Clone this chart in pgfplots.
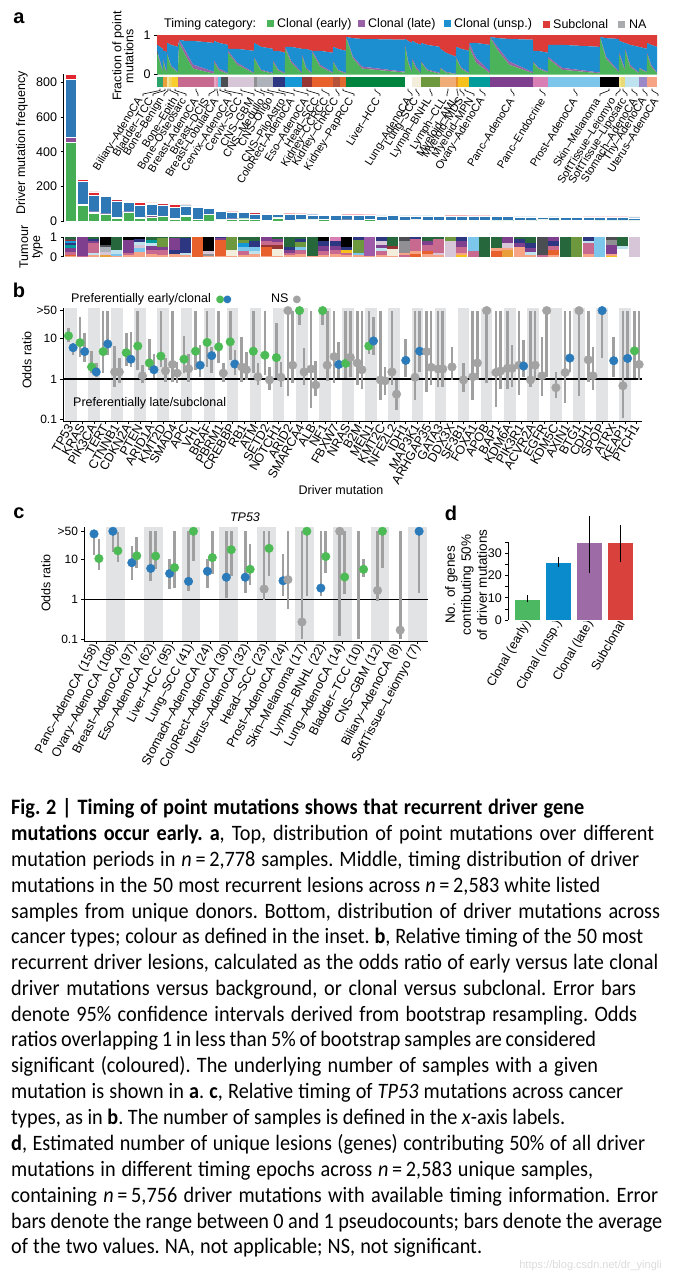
\documentclass[border=0pt]{standalone}
\usepackage{fontspec}
\setmainfont{Liberation Sans}
\newfontfamily\capfont[FakeStretch=0.92,WordSpace=0.7]{Carlito}
\newfontfamily\symfont{DejaVu Sans}
\usepackage{pgfplots}
\usepackage{pgfplotstable}
\pgfplotsset{compat=1.18}

\newcommand\fA{\fontsize{12.5}{14}\selectfont}
\newcommand\fT{\fontsize{12}{14}\selectfont}
\newcommand\fS{\fontsize{11}{13}\selectfont}
\newcommand\fPan{\fontsize{20}{22}\selectfont\bfseries}
\newcommand\fC{\capfont\fontsize{22}{26}\selectfont\frenchspacing}

% timing colours
\definecolor{cG}{HTML}{4BB35A}
\definecolor{cP}{HTML}{9A62A6}
\definecolor{cB}{HTML}{1B8FD0}
\definecolor{cR}{HTML}{DC3B38}
\definecolor{cNA}{HTML}{A9ABAE}
\definecolor{bG}{HTML}{45AE55}
\definecolor{bP}{HTML}{8B4C98}
\definecolor{bB}{HTML}{2F78B6}
\definecolor{bR}{HTML}{E2262F}
\definecolor{bNA}{HTML}{F0B4C0}
\definecolor{dotG}{HTML}{4DBB55}
\definecolor{dotB}{HTML}{2B7BBA}
\definecolor{dotN}{HTML}{A3A3A3}
\definecolor{ciC}{HTML}{A0A0A0}
\definecolor{band}{HTML}{E2E3E4}
\definecolor{dG}{HTML}{4DB862}
\definecolor{dB}{HTML}{0A8BCB}
\definecolor{dP}{HTML}{9D6BA5}
\definecolor{dR}{HTML}{D8413C}
% tumour type colours
\definecolor{cBil}{HTML}{2BA36A}
\definecolor{cBla}{HTML}{E9A03B}
\definecolor{cBob}{HTML}{F3E3A0}
\definecolor{cBoe}{HTML}{F2D35C}
\definecolor{cBon}{HTML}{F9CD2B}
\definecolor{cBre}{HTML}{C8698F}
\definecolor{cBrd}{HTML}{E7A6C4}
\definecolor{cBrl}{HTML}{E390B5}
\definecolor{cCer}{HTML}{5CC2E8}
\definecolor{cCes}{HTML}{4B4F53}
\definecolor{cGbm}{HTML}{D6C6D8}
\definecolor{cMed}{HTML}{8F8F94}
\definecolor{cOli}{HTML}{AEB2BB}
\definecolor{cCol}{HTML}{2D3681}
\definecolor{cEso}{HTML}{1598D6}
\definecolor{cHea}{HTML}{963634}
\definecolor{cKid}{HTML}{E8612C}
\definecolor{cKch}{HTML}{B4523A}
\definecolor{cKpa}{HTML}{E06A2E}
\definecolor{cLiv}{HTML}{27673C}
\definecolor{cLivS}{HTML}{00853F}
\definecolor{cLua}{HTML}{FFFFFF}
\definecolor{cLus}{HTML}{F3EEDC}
\definecolor{cBnh}{HTML}{6E983D}
\definecolor{cCll}{HTML}{EFAC77}
\definecolor{cAml}{HTML}{E98E2A}
\definecolor{cMye}{HTML}{F6C11C}
\definecolor{cOva}{HTML}{009C9C}
\definecolor{cPan}{HTML}{7E3F8F}
\definecolor{cPen}{HTML}{DA7EB6}
\definecolor{cMen}{HTML}{9E5CA8}
\definecolor{cPro}{HTML}{7CC6EC}
\definecolor{cSki}{HTML}{000000}
\definecolor{cSof}{HTML}{F4E48C}
\definecolor{cLip}{HTML}{E8D977}
\definecolor{cSto}{HTML}{BFE2EF}
\definecolor{cThy}{HTML}{9B88C7}
\definecolor{cUte}{HTML}{F6A386}

\pgfplotsset{base/.style={scale only axis, clip=false,
  /pgf/number format/assume math mode=true,
  tick label style={font=\fT}, tick align=outside,
  major tick length=3pt, minor tick length=3pt,
  every tick/.style={black, line width=0.7pt},
  axis line style={line width=0.8pt}}}

\newcommand\tb[3]{\addplot[ybar, bar width=0.94, bar shift=0pt, fill=#3, draw=none, forget plot] coordinates {(#1,#2)};}
\newcommand\rs[3]{\addplot[fill=#3, draw=none, forget plot] coordinates {(#1,0) (#2,0) (#2,1) (#1,1)} -- cycle;}
\newcommand\bandB[2]{\addplot[fill=band, draw=none, forget plot] coordinates {(#1,0.093) (#2,0.093) (#2,59) (#1,59)} -- cycle;}
\newcommand\bandC[2]{\addplot[fill=band, draw=none, forget plot] coordinates {(#1,0.093) (#2,0.093) (#2,65) (#1,65)} -- cycle;}

\pgfplotstableread{
i g p b r na
1 455 28 336 28 3
2 93 3 135 9 2
3 45 10 95 20 3
4 42 2 100 4 2
5 18 5 95 8 2
6 50 5 55 6 2
7 18 5 70 17 2
8 25 8 65 8 2
9 28 3 63 8 2
10 12 5 65 16 2
11 30 5 55 5 2
12 10 2 70 5 2
13 40 3 32 5 1
14 8 2 48 6 1
15 12 3 37 2 1
16 15 2 35 4 1
17 10 3 30 8 1
18 5 2 32 8 1
19 20 2 20 3 1
20 5 3 33 3 1
21 8 2 30 3 1
22 8 2 28 4 1
23 10 1 25 5 1
24 5 2 28 4 1
25 8 1 26 3 1
26 5 2 27 4 1
27 12 1 20 4 1
28 5 2 24 5 1
29 5 1 27 3 1
30 4 1 26 4 1
31 8 2 21 3 1
32 4 2 25 3 1
33 5 2 23 3 1
34 5 1 23 3 1
35 4 1 24 3 1
36 4 1 23 3 1
37 5 1 21 4 1
38 3 1 23 3 1
39 3 2 22 3 1
40 5 1 20 3 1
41 3 1 22 3 1
42 8 2 14 4 1
43 3 1 21 3 1
44 4 1 19 3 1
45 4 1 19 3 1
46 4 1 18 3 1
47 3 1 19 3 1
48 3 1 18 3 1
49 3 1 18 3 1
50 3 1 17 3 1
}\tabA

\pgfplotstableread{
x g p b r
0.2 .55 .05 .15 .25
3 .30 .05 .35 .30
5.8 .05 .03 .57 .35
6.2 .35 .05 .20 .40
8 .15 .05 .40 .40
9.8 .05 .03 .47 .45
10.2 .50 .03 .27 .20
14 .20 .03 .52 .25
20.8 .05 .02 .63 .30
22.2 .80 .08 .00 .12
28 .50 .12 .23 .15
36 .15 .10 .60 .15
56.8 .02 .05 .73 .20
57.2 .30 .05 .50 .15
62 .10 .05 .65 .20
70.8 .02 .02 .71 .25
71.2 .55 .05 .05 .35
80 .25 .05 .35 .35
96.8 .03 .02 .55 .40
97.2 .40 .03 .37 .20
104 .10 .02 .58 .30
115.8 .02 .02 .61 .35
116.2 .30 .05 .25 .40
121 .10 .03 .47 .40
127.8 .02 .02 .51 .45
128.2 .65 .05 .00 .30
134 .30 .05 .35 .30
144.8 .03 .02 .60 .35
145.2 .45 .05 .15 .35
149 .15 .03 .47 .35
154.8 .02 .02 .56 .40
155.2 .55 .05 .00 .40
163 .20 .05 .35 .40
175.8 .03 .02 .50 .45
176.2 .30 .03 .37 .30
181 .10 .02 .53 .35
188.8 .02 .02 .56 .40
189.2 .92 .03 .00 .05
196 .40 .05 .47 .08
205 .15 .05 .70 .10
247.8 .05 .02 .81 .12
248.2 .70 .05 .15 .10
251 .30 .05 .50 .15
254.8 .05 .02 .73 .20
255.2 .35 .05 .45 .15
259 .15 .05 .60 .20
263.8 .03 .02 .70 .25
264.2 .30 .03 .47 .20
270 .10 .03 .62 .25
282.8 .02 .02 .66 .30
283.2 .15 .02 .48 .35
289 .05 .02 .48 .45
298.8 .01 .01 .43 .55
299.2 .40 .03 .27 .30
304 .15 .03 .47 .35
311.8 .03 .02 .55 .40
312.2 .70 .10 .00 .20
319 .30 .12 .38 .20
332.8 .03 .05 .67 .25
333.2 .92 .03 .00 .05
341 .60 .08 .24 .08
352 .25 .08 .57 .10
375.8 .03 .03 .82 .12
376.2 .30 .03 .27 .40
381 .15 .03 .42 .40
390.8 .05 .02 .48 .45
391.2 .40 .05 .30 .25
405 .12 .05 .58 .25
442.8 .03 .02 .65 .30
443.2 .93 .02 .00 .05
449 .40 .05 .47 .08
461.8 .05 .03 .82 .10
462.2 .50 .05 .30 .15
467.8 .10 .05 .65 .20
468.2 .60 .05 .15 .20
473 .20 .05 .50 .25
481.8 .03 .02 .65 .30
482.2 .15 .02 .53 .30
489.8 .05 .02 .58 .35
490.2 .50 .05 .25 .20
494 .20 .05 .50 .25
500 .03 .02 .65 .30
}\tabI

\pgfplotstableread{
x y lo hi c
0.8 11.8 8.5 18 G
1.2 6.0 3.9 8.0 B
1.8 8.0 3.6 35 G
2.2 4.8 2.7 13.5 B
2.8 2.0 1.4 4.9 G
3.2 1.5 1.14 2.45 B
3.8 4.8 1.43 50 G
4.2 7.4 3.9 50 B
4.8 1.5 0.65 6.6 N
5.2 1.5 0.78 3.4 N
5.8 4.5 2.1 13.6 G
6.2 3.1 2.0 15 B
6.8 6.6 1.7 50 G
7.2 1.2 0.78 2.2 N
7.8 2.5 1.7 10 G
8.2 1.7 1.04 4.3 B
8.8 3.7 2.0 50 G
9.2 1.6 0.86 3.3 N
9.8 2.3 0.86 50 N
10.2 1.4 0.78 2.7 N
10.8 3.1 1.4 12 G
11.2 1.8 0.86 4.3 N
11.8 4.9 1.7 50 G
12.2 2.2 1.14 7 B
12.8 8.1 2.0 50 G
13.2 3.8 1.4 6.3 B
13.8 6.3 2.45 50 G
14.2 1.4 0.86 2.45 N
14.8 8.4 2.96 50 G
15.2 2.35 1.26 5.2 B
15.8 2.0 0.86 11 N
16.2 1.7 0.95 4.8 N
16.8 4.9 1.4 50 G
17.2 1.14 0.71 2.45 N
17.8 3.9 1.26 50 G
18.2 0.95 0.53 2.0 N
18.8 3.4 1.05 24 G
19.2 1.1 0.65 2.7 N
19.8 50 0.37 50 N
20.2 2.2 0.78 50 N
20.8 50 22 50 G
21.2 1.5 0.71 5.8 N
21.8 1.77 0.19 50 N
22.2 0.71 0.37 2.85 N
22.8 50 22 50 G
23.2 2.2 0.9 50 N
23.8 3.6 0.78 50 N
24.2 2.3 1.04 8.4 B
24.8 2.45 1.05 50 G
25.2 3.45 1.14 50 N
25.8 2.5 0.71 50 N
26.2 1.7 0.55 50 N
26.8 6.6 4.3 50 G
27.2 8.8 3.9 35 B
27.8 0.95 0.3 50 N
28.2 0.9 0.4 2.0 N
28.8 1.5 0.71 50 N
29.2 0.42 0.17 0.94 N
30.0 2.9 1.14 10 B
30.8 1.1 0.3 50 N
31.2 4.9 1.5 50 B
31.8 4.8 0.48 50 N
32.2 1.95 0.71 50 N
32.8 1.77 0.65 50 N
33.2 1.77 0.65 50 N
34.0 2.0 0.95 6.3 N
35.0 0.95 0.48 2.45 N
35.8 1.14 0.3 50 N
36.2 2.5 0.95 50 N
37.0 50 0.78 50 N
37.8 1.45 0.2 50 N
38.2 1.58 0.55 50 N
38.8 1.84 0.55 50 N
39.2 1.84 0.65 7 N
39.8 2.2 0.4 50 N
40.2 2.1 1.14 9.3 B
40.8 0.95 0.65 50 N
41.2 2.2 0.95 50 N
41.8 1.2 0.37 11 N
42.2 50 1.14 50 N
43.0 0.61 0.33 1.5 N
43.8 1.45 0.25 50 N
44.2 3.3 1.5 50 B
45.0 50 0.37 50 N
45.8 3.0 0.86 50 N
46.2 1.2 0.53 6.3 N
47.0 50 3.3 50 B
48.0 2.85 1.14 11 B
48.8 0.68 0.11 50 N
49.2 3.25 1.05 50 B
49.8 5.0 1.05 50 G
50.2 2.3 0.95 50 N
}\tabB

\pgfplotstableread{
x y lo hi c
0.87 43 12.6 43 B
1.13 10.4 5.4 32 G
1.87 50 15.4 50 B
2.13 16.3 8.6 48 G
2.87 8.2 3.1 22 B
3.13 12.2 6.1 35 G
3.87 5.9 2.8 50 B
4.13 12 5.6 50 G
4.87 4.4 1.8 10 B
5.13 6.2 1.9 50 G
5.87 2.8 1.6 50 B
6.13 50 9.1 50 G
6.87 5.0 1.9 10 B
7.13 11 4.2 50 G
7.87 3.55 1.05 50 B
8.13 17.3 3.8 50 G
8.87 3.55 1.4 50 B
9.13 5.6 2.3 24 G
9.87 1.8 0.94 50 N
10.13 18.7 3.8 50 G
10.87 2.9 1.2 13.4 B
11.13 3.1 0.56 50 N
11.87 0.27 0.1 50 N
12.13 50 1.2 50 G
12.87 1.9 1.2 50 B
13.13 11.7 4.6 50 G
13.87 50 0.12 50 N
14.13 3.6 1.34 50 G
15.13 5.6 3.6 10 G
15.87 1.66 0.92 50 N
16.13 50 6.1 50 G
17.07 0.17 0.1 50 N
18.07 50 1.42 50 B
}\tabC

\begin{document}
\begin{tikzpicture}
\useasboundingbox (0,0) rectangle (673pt,-1280pt);

%================ panel a: top inset
\begin{axis}[base, at={(157pt,-74.5pt)}, anchor=south west, width=500pt, height=39.5pt,
  xmin=0, xmax=500, ymin=0, ymax=1, axis x line=none, axis y line*=left,
  ytick={0,1}, tick label style={font=\fA}, stack plots=y]
\addplot[fill=cG, draw=none] table[x=x,y=g]{\tabI} \closedcycle;
\addplot[fill=cP, draw=none] table[x=x,y=p]{\tabI} \closedcycle;
\addplot[fill=cB, draw=none] table[x=x,y=b]{\tabI} \closedcycle;
\addplot[fill=cR, draw=none] table[x=x,y=r]{\tabI} \closedcycle;
\end{axis}

%================ panel a: tumour colour strip of inset
\begin{axis}[scale only axis, at={(157pt,-87.3pt)}, anchor=south west, width=500pt, height=10.6pt,
  xmin=0, xmax=500, ymin=0, ymax=1, hide axis]
\rs{0}{6}{cBil}\rs{6}{10}{cBla}\rs{10}{12}{cBob}\rs{12}{15}{cBoe}\rs{15}{21}{cBon}
\rs{21}{57}{cBre}\rs{57}{59}{cBrd}\rs{59}{61}{cBrl}\rs{61}{64}{cCer}\rs{64}{71}{cCes}
\rs{71}{97}{cGbm}\rs{97}{100}{cMed}\rs{100}{116}{cOli}\rs{116}{128}{cCol}\rs{128}{145}{cEso}
\rs{145}{155}{cHea}\rs{155}{176}{cKid}\rs{176}{183}{cKch}\rs{183}{189}{cKpa}\rs{189}{248}{cLivS}
\rs{248}{255}{cLua}\rs{255}{264}{cLus}\rs{264}{283}{cBnh}\rs{283}{299}{cCll}\rs{299}{301}{cAml}
\rs{301}{312}{cMye}\rs{312}{333}{cOva}\rs{333}{376}{cPan}\rs{376}{391}{cPen}\rs{391}{443}{cPro}
\rs{443}{462}{cSki}\rs{462}{464}{cSof}\rs{464}{468}{cLip}\rs{468}{482}{cSto}\rs{482}{490}{cThy}
\rs{490}{500}{cUte}
\end{axis}

%================ panel a: driver mutation bars
\begin{axis}[base, at={(63.5pt,-221.3pt)}, anchor=south west, width=577.5pt, height=147.7pt,
  xmin=0.37, xmax=50.59, ymin=0, ymax=850, axis x line=none, axis y line*=left,
  ytick={0,200,400,600,800}, tick label style={font=\fA}, ybar stacked, bar width=0.97]
\addplot[fill=bG, draw=white, line width=0.3pt] table[x=i,y=g]{\tabA};
\addplot[fill=bP, draw=white, line width=0.3pt] table[x=i,y=p]{\tabA};
\addplot[fill=bB, draw=white, line width=0.3pt] table[x=i,y=b]{\tabA};
\addplot[fill=bR, draw=white, line width=0.3pt] table[x=i,y=r]{\tabA};
\addplot[fill=bNA, draw=white, line width=0.3pt] table[x=i,y=na]{\tabA};
\end{axis}

%================ panel a: tumour type of driver mutations
\begin{axis}[base, at={(63.5pt,-256.7pt)}, anchor=south west, width=577.5pt, height=19.4pt,
  xmin=0.37, xmax=50.59, ymin=0, ymax=1, axis x line=none, axis y line*=left,
  ytick={0,1}, tick label style={font=\fA}]
\tb{1}{1}{cLiv}\tb{1}{.9}{cCes}\tb{1}{.85}{cHea}\tb{1}{.8}{cEso}\tb{1}{.7}{cCol}\tb{1}{.6}{cOva}\tb{1}{.45}{cPan}\tb{1}{.25}{cBre}\tb{1}{.1}{cKid}\tb{1}{.05}{cUte}
\tb{2}{1}{cPan}\tb{2}{.04}{cBre}
\tb{3}{1}{cLiv}\tb{3}{.9}{cCol}\tb{3}{.8}{cPan}\tb{3}{.7}{cBre}\tb{3}{.2}{cSto}\tb{3}{.1}{cUte}
\tb{4}{1}{cSki}\tb{4}{.6}{cCes}\tb{4}{.5}{cOli}\tb{4}{.25}{cGbm}\tb{4}{.1}{cBla}
\tb{5}{1}{cLiv}\tb{5}{.35}{cSto}\tb{5}{.15}{cPro}\tb{5}{.05}{cUte}
\tb{6}{1}{cSki}\tb{6}{.85}{cPan}\tb{6}{.2}{cBre}\tb{6}{.1}{cUte}
\tb{7}{1}{cSki}\tb{7}{.9}{cCol}\tb{7}{.75}{cSto}\tb{7}{.6}{cGbm}\tb{7}{.45}{cPro}\tb{7}{.25}{cUte}
\tb{8}{1}{cLiv}\tb{8}{.85}{cOva}\tb{8}{.7}{cSto}\tb{8}{.55}{cPan}\tb{8}{.35}{cBre}\tb{8}{.15}{cUte}
\tb{9}{1}{cLiv}\tb{9}{.95}{cBnh}\tb{9}{.5}{cPan}\tb{9}{.35}{cBre}\tb{9}{.1}{cUte}
\tb{10}{1}{cLiv}\tb{10}{.95}{cPan}\tb{10}{.35}{cCol}\tb{10}{.15}{cUte}
\tb{11}{1}{cLiv}\tb{11}{.95}{cCol}\tb{11}{.2}{cSto}\tb{11}{.1}{cUte}
\tb{12}{1}{cKid}
\tb{13}{1}{cSki}\tb{13}{.3}{cGbm}\tb{13}{.15}{cMed}\tb{13}{.05}{cUte}
\tb{14}{1}{cCol}\tb{14}{.95}{cPan}\tb{14}{.85}{cKid}\tb{14}{.05}{cUte}
\tb{15}{1}{cBnh}\tb{15}{.35}{cLus}\tb{15}{.05}{cUte}
\tb{16}{1}{cLiv}\tb{16}{.85}{cBnh}\tb{16}{.7}{cEso}\tb{16}{.5}{cPro}\tb{16}{.3}{cBre}\tb{16}{.1}{cUte}
\tb{17}{1}{cLiv}\tb{17}{.8}{cCol}\tb{17}{.5}{cPro}\tb{17}{.3}{cSto}\tb{17}{.15}{cUte}
\tb{18}{1}{cPan}\tb{18}{.8}{cBre}\tb{18}{.6}{cHea}\tb{18}{.5}{cKid}\tb{18}{.05}{cUte}
\tb{19}{1}{cLiv}\tb{19}{.9}{cPan}\tb{19}{.75}{cBre}\tb{19}{.6}{cHea}\tb{19}{.4}{cLus}\tb{19}{.05}{cUte}
\tb{20}{1}{cLiv}\tb{20}{.5}{cCol}\tb{20}{.35}{cPan}\tb{20}{.2}{cBre}\tb{20}{.1}{cUte}
\tb{21}{1}{cLiv}\tb{21}{.9}{cCol}\tb{21}{.75}{cBnh}\tb{21}{.5}{cPro}\tb{21}{.35}{cBre}\tb{21}{.15}{cUte}
\tb{22}{1}{cLiv}\tb{22}{.03}{cUte}
\tb{23}{1}{cSki}\tb{23}{.8}{cCol}\tb{23}{.55}{cPan}\tb{23}{.3}{cBre}\tb{23}{.1}{cUte}
\tb{24}{1}{cPen}\tb{24}{.8}{cCol}\tb{24}{.55}{cPan}\tb{24}{.35}{cBre}\tb{24}{.15}{cUte}
\tb{25}{1}{cSki}\tb{25}{.5}{cCol}\tb{25}{.35}{cMye}\tb{25}{.2}{cBre}\tb{25}{.1}{cUte}
\tb{26}{1}{cCol}\tb{26}{.85}{cBnh}\tb{26}{.2}{cPro}\tb{26}{.1}{cUte}
\tb{27}{1}{cMen}\tb{27}{.03}{cUte}
\tb{28}{1}{cCol}\tb{28}{.8}{cGbm}\tb{28}{.6}{cPan}\tb{28}{.45}{cSto}\tb{28}{.3}{cBre}\tb{28}{.1}{cUte}
\tb{29}{1}{cLiv}\tb{29}{.55}{cHea}\tb{29}{.4}{cLus}\tb{29}{.05}{cUte}
\tb{30}{1}{cCes}\tb{30}{.8}{cMed}\tb{30}{.2}{cUte}\tb{30}{.1}{cBre}
\tb{31}{1}{cCol}\tb{31}{.9}{cBre}\tb{31}{.3}{cUte}\tb{31}{.15}{cKid}
\tb{32}{1}{cLiv}\tb{32}{.8}{cPan}\tb{32}{.6}{cBre}\tb{32}{.3}{cKid}\tb{32}{.15}{cUte}
\tb{33}{1}{cLiv}\tb{33}{.9}{cBre}\tb{33}{.2}{cGbm}\tb{33}{.1}{cUte}
\tb{34}{1}{cBnh}\tb{34}{.8}{cGbm}
\tb{35}{1}{cCol}\tb{35}{.8}{cPan}\tb{35}{.5}{cBre}\tb{35}{.2}{cUte}\tb{35}{.1}{cMye}
\tb{36}{1}{cPro}\tb{36}{.3}{cBre}
\tb{37}{1}{cLiv}
\tb{38}{1}{cLiv}\tb{38}{.45}{cUte}\tb{38}{.3}{cKid}
\tb{39}{1}{cPan}\tb{39}{.7}{cGbm}\tb{39}{.45}{cUte}\tb{39}{.35}{cBla}
\tb{40}{1}{cLiv}\tb{40}{.9}{cCol}\tb{40}{.7}{cPan}\tb{40}{.5}{cUte}
\tb{41}{1}{cLiv}\tb{41}{.7}{cCol}\tb{41}{.45}{cPan}\tb{41}{.25}{cSto}\tb{41}{.1}{cUte}
\tb{42}{1}{cCes}\tb{42}{.1}{cBre}
\tb{43}{1}{cPan}\tb{43}{.8}{cCol}\tb{43}{.55}{cBre}\tb{43}{.35}{cKid}\tb{43}{.1}{cUte}
\tb{44}{1}{cLiv}
\tb{45}{1}{cBnh}
\tb{46}{1}{cCol}\tb{46}{.8}{cSto}\tb{46}{.7}{cBre}\tb{46}{.15}{cUte}
\tb{47}{1}{cPro}
\tb{48}{1}{cCes}\tb{48}{.85}{cMed}\tb{48}{.6}{cPan}\tb{48}{.15}{cUte}\tb{48}{.05}{cMye}
\tb{49}{1}{cLiv}\tb{49}{.55}{cSto}\tb{49}{.4}{cLua}
\tb{50}{1}{cGbm}
\end{axis}

%================ panel b
\begin{axis}[base, at={(63pt,-421.7pt)}, anchor=south west, width=579pt, height=114pt,
  xmin=0.325, xmax=50.45, ymode=log, ymin=0.087, ymax=59,
  axis x line*=bottom, axis y line*=left, yminorticks=false,
  ytick={0.1,1,10,50}, yticklabels={0.1,1,10,>50},
  xtick={1,...,50}, major tick length=2.5pt,
  xticklabels={TP53,KRAS,PIK3CA,TERT,CTNNB1,CDKN2A,PTEN,ARID1A,KMT2D,SMAD4,APC,VHL,BRAF,PBRM1,CREBBP,RB1,ATM,SETD2,NOTCH1,ARID2,SMARCA4,ALB,NF1,FBXW7,NRAS,B2M,MEN1,KMT2C,NFE2L2,IDH1,MAP3K1,ARHGAP35,GATA3,DDX3X,SF3B1,FOXA1,APOB,BAP1,KDM6A,PIK3R1,ACVR2A,EGFR,KDM5C,AXIN1,BTG1,CDH1,SPOP,ATRX,KEAP1,PTCH1},
  xticklabel style={rotate=60, anchor=east, font=\fA, inner sep=1pt}]
\bandB{0.5}{1.5}\bandB{2.5}{3.5}\bandB{4.5}{5.5}\bandB{6.5}{7.5}\bandB{8.5}{9.5}
\bandB{10.5}{11.5}\bandB{12.5}{13.5}\bandB{14.5}{15.5}\bandB{16.5}{17.5}\bandB{18.5}{19.5}
\bandB{20.5}{21.5}\bandB{22.5}{23.5}\bandB{24.5}{25.5}\bandB{26.5}{27.5}\bandB{28.5}{29.5}
\bandB{30.5}{31.5}\bandB{32.5}{33.5}\bandB{34.5}{35.5}\bandB{36.5}{37.5}\bandB{38.5}{39.5}
\bandB{40.5}{41.5}\bandB{42.5}{43.5}\bandB{44.5}{45.5}\bandB{46.5}{47.5}\bandB{48.5}{49.5}
\addplot[black, line width=1.1pt, forget plot] coordinates {(0.325,1) (50.45,1)};
\addplot[only marks, mark=none, forget plot, error bars/.cd, y dir=both, y explicit, error mark=none,
  error bar style={line width=2.6pt, ciC}]
  table[x=x, y=y, y error plus expr=\thisrow{hi}-\thisrow{y}, y error minus expr=\thisrow{y}-\thisrow{lo}] {\tabB};
\addplot[scatter, only marks, mark=*, mark size=4.3pt, scatter src=explicit symbolic,
  scatter/classes={G={mark=*,fill=dotG,draw=dotG}, B={mark=*,fill=dotB,draw=dotB}, N={mark=*,fill=dotN,draw=dotN}}]
  table[x=x, y=y, meta=c] {\tabB};
\end{axis}

%================ panel c
\begin{axis}[base, at={(84pt,-641.7pt)}, anchor=south west, width=344pt, height=115pt,
  xmin=0.34, xmax=18.54, ymode=log, ymin=0.087, ymax=65,
  axis x line*=bottom, axis y line*=left, yminorticks=false,
  ytick={0.1,1,10,50}, yticklabels={0.1,1,10,>50},
  xtick={1,...,18}, major tick length=2.5pt,
  xticklabels={Panc--AdenoCA (158),Ovary--AdenoCA (108),Breast--AdenoCA (97),Eso--AdenoCA (62),Liver--HCC (95),Lung--SCC (41),Stomach--AdenoCA (24),ColoRect--AdenoCA (30),Uterus--AdenoCA (32),Head--SCC (23),Prost--AdenoCA (24),Skin--Melanoma (17),Lymph--BNHL (22),Lung--AdenoCA (14),Bladder--TCC (10),CNS--GBM (12),Biliary--AdenoCA (8),SoftTissue--Leiomyo (7)},
  xticklabel style={rotate=62, anchor=east, font=\fA, inner sep=1pt}]
\bandC{1.5}{2.5}\bandC{3.5}{4.5}\bandC{5.5}{6.5}\bandC{7.5}{8.5}\bandC{9.5}{10.5}
\bandC{11.5}{12.5}\bandC{13.5}{14.5}\bandC{15.5}{16.5}\bandC{17.5}{18.5}
\addplot[black, line width=1.1pt, forget plot] coordinates {(0.34,1) (18.54,1)};
\addplot[ciC, line width=2.6pt, forget plot] coordinates {(14.87,0.1) (14.87,50)};
\addplot[only marks, mark=none, forget plot, error bars/.cd, y dir=both, y explicit, error mark=none,
  error bar style={line width=2.6pt, ciC}]
  table[x=x, y=y, y error plus expr=\thisrow{hi}-\thisrow{y}, y error minus expr=\thisrow{y}-\thisrow{lo}] {\tabC};
\addplot[scatter, only marks, mark=*, mark size=4.3pt, scatter src=explicit symbolic,
  scatter/classes={G={mark=*,fill=dotG,draw=dotG}, B={mark=*,fill=dotB,draw=dotB}, N={mark=*,fill=dotN,draw=dotN}}]
  table[x=x, y=y, meta=c] {\tabC};
\end{axis}

%================ panel d
\begin{axis}[base, at={(508.3pt,-620pt)}, anchor=south west, width=126.4pt, height=77.7pt,
  xmin=0.4, xmax=4.45, ymin=0, ymax=35,
  axis x line*=bottom, axis y line*=left, x axis line style={draw=none},
  xtick={1,2,3,4}, xtick style={draw=none},
  xticklabels={Clonal (early),Clonal (unsp.),Clonal (late),Subclonal},
  xticklabel style={rotate=60, anchor=east, font=\fA, xshift=5pt},
  ytick={0,10,20,30}, minor ytick={5,15,25,35}, tick label style={font=\fA}]
\addplot[ybar, bar width=0.83, bar shift=0pt, fill=dG, draw=white, line width=0.6pt,
  error bars/.cd, y dir=both, y explicit, error mark=none, error bar style={black, line width=1pt}]
  coordinates {(1,9.3) += (0,1.9) -= (0,1.3)};
\addplot[ybar, bar width=0.83, bar shift=0pt, fill=dB, draw=white, line width=0.6pt,
  error bars/.cd, y dir=both, y explicit, error mark=none, error bar style={black, line width=1pt}]
  coordinates {(2,26) += (0,2.3) -= (0,2.2)};
\addplot[ybar, bar width=0.83, bar shift=0pt, fill=dP, draw=white, line width=0.6pt,
  error bars/.cd, y dir=both, y explicit, error mark=none, error bar style={black, line width=1pt}]
  coordinates {(3,35) += (0,12) -= (0,14)};
\addplot[ybar, bar width=0.83, bar shift=0pt, fill=dR, draw=white, line width=0.6pt,
  error bars/.cd, y dir=both, y explicit, error mark=none, error bar style={black, line width=1pt}]
  coordinates {(4,35) += (0,8) -= (0,9)};
\end{axis}

%================ annotations
\begin{scope}[x=1pt, y=-1pt]
\node[font=\fPan] at (19,18) {a};
\node[font=\fPan] at (19,290) {b};
\node[font=\fPan] at (19,513) {c};
\node[font=\fPan] at (451,513) {d};
% legend of panel a
\node[font=\fA, anchor=west, inner sep=0] at (164,24) {Timing category:};
\node[font=\fA, anchor=west, inner sep=0] at (267,24) {\textcolor{cG}{\rule{7pt}{7pt}}\hspace{3pt}Clonal (early)};
\node[font=\fA, anchor=west, inner sep=0] at (358,24) {\textcolor{cP}{\rule{7pt}{7pt}}\hspace{3pt}Clonal (late)};
\node[font=\fA, anchor=west, inner sep=0] at (444,24) {\textcolor{cB}{\rule{7pt}{7pt}}\hspace{3pt}Clonal (unsp.)};
\node[font=\fA, anchor=west, inner sep=0] at (543,24) {\textcolor{cR}{\rule{7pt}{7pt}}\hspace{3pt}Subclonal};
\node[font=\fA, anchor=west, inner sep=0] at (618,24) {\textcolor{cNA}{\rule{7pt}{7pt}}\hspace{4pt}NA};
\node[font=\fA, rotate=90, align=center] at (123,56) {Fraction of point\\[-2pt]mutations};
\node[font=\fA, rotate=90] at (22,143) {Driver mutation frequency};
\node[font=\fA, rotate=90, align=center] at (31,247) {Tumour\\[-2pt]type};
% tumour type labels with brackets
\foreach \xl/\xs/\lab in {141/160/Biliary--AdenoCA, 151/165/Bladder--TCC, 162/168/Bone--Benign,
  176/170/Bone--Epith, 184/175/Bone--Osteosarc, 196/196/Breast--AdenoCA, 207/215/Breast--DCIS,
  216/217/Breast--LobularCA, 229/220/Cervix--AdenoCA, 240/225/Cervix--SCC, 252/241/CNS--GBM,
  262/255/CNS--Medullo, 271/261/CNS--Oligo, 283/268/CNS--PiloAstro, 292/279/ColoRect--AdenoCA,
  306/294/Eso--AdenoCA, 317/307/Head--SCC, 327/322/Kidney--CCRCC, 337/336/Kidney--ChRCC,
  352/343/Kidney--PapRCC, 378/375/Liver--HCC, 410/408/Lung--AdenoCA, 417/416/Lung--SCC,
  430/430/Lymph--BNHL, 445/448/Lymph--CLL, 456/457/Myeloid--AML, 462/460/Myeloid--MDS,
  472/465/Myeloid--MPN, 483/480/Ovary--AdenoCA, 512/511/Panc--AdenoCA, 543/540/Panc--Endocrine,
  575/574/Prost--AdenoCA, 598/609/Skin--Melanoma, 614/620/SoftTissue--Leiomyo,
  625/623/SoftTissue--Liposarc, 635/632/Stomach--AdenoCA, 645/643/Thy--AdenoCA, 656/652/Uterus--AdenoCA}
{
  \draw[line width=0.6pt] (\xs,88.5) -- (\xs,90.5) -- (\xl+2,94) -- (\xl+2,96);
  \node[font=\fS, rotate=58, anchor=east, inner sep=1pt] at (\xl,98) {\lab};
}
% panel b texts
\node[font=\fA, anchor=west, inner sep=0] at (71,299) {Preferentially early/clonal\hspace{5pt}{\symfont\fontsize{10}{12}\selectfont\textcolor{dotG}{●}\hspace{-1.5pt}\textcolor{dotB}{●}}};
\node[font=\fA, anchor=west, inner sep=0] at (271,299) {NS\hspace{4pt}{\symfont\fontsize{10}{12}\selectfont\textcolor{dotN}{●}}};
\node[font=\fA, anchor=west, inner sep=0] at (73,403) {Preferentially late/subclonal};
\node[font=\fA, rotate=90] at (27,360) {Odds ratio};
\node[font=\fA] at (341,490) {Driver mutation};
% panel c texts
\node[font=\fA\itshape] at (245,517) {TP53};
\node[font=\fA, rotate=90] at (46,583) {Odds ratio};
% panel d texts
\node[font=\fontsize{13.5}{15}\selectfont, rotate=90, align=center] at (466,585) {No. of genes\\[1pt]contributing 50\%\\[1pt]of driver mutations};
% caption
\begin{scope}[every node/.style={anchor=base west, inner sep=0, font=\fC}]
\node at (11,814) {\makebox[573pt][s]{\bfseries Fig. 2 | Timing of point mutations shows that recurrent driver gene}};
\node at (11,840) {\makebox[643pt][s]{\textbf{mutations occur early. a}, Top, distribution of point mutations over different}};
\node at (11,866) {\makebox[628pt][s]{mutation periods in \textit{n}\,=\,2,778 samples. Middle, timing distribution of driver}};
\node at (11,892) {\makebox[589pt][s]{mutations in the 50 most recurrent lesions across \textit{n}\,=\,2,583 white listed}};
\node at (11,918) {\makebox[649pt][s]{samples from unique donors. Bottom, distribution of driver mutations across}};
\node at (11,943.5) {\makebox[632pt][s]{cancer types; colour as defined in the inset. \textbf{b}, Relative timing of the 50 most}};
\node at (11,969) {\makebox[647pt][s]{recurrent driver lesions, calculated as the odds ratio of early versus late clonal}};
\node at (11,995) {\makebox[625pt][s]{driver mutations versus background, or clonal versus subclonal. Error bars}};
\node at (11,1021) {\makebox[626pt][s]{denote 95\% confidence intervals derived from bootstrap resampling. Odds}};
\node at (11,1046) {\makebox[585pt][s]{ratios overlapping 1 in less than 5\% of bootstrap samples are considered}};
\node at (11,1072) {\makebox[587pt][s]{significant (coloured). The underlying number of samples with a given}};
\node at (11,1098) {\makebox[612pt][s]{mutation is shown in \textbf{a}. \textbf{c}, Relative timing of \textit{TP53} mutations across cancer}};
\node at (11,1124) {\makebox[554pt][s]{types, as in \textbf{b}. The number of samples is defined in the \textit{x}-axis labels.}};
\node at (11,1150) {\makebox[634pt][s]{\textbf{d}, Estimated number of unique lesions (genes) contributing 50\% of all driver}};
\node at (11,1176) {\makebox[582pt][s]{mutations in different timing epochs across \textit{n}\,=\,2,583 unique samples,}};
\node at (11,1202) {\makebox[647pt][s]{containing \textit{n}\,=\,5,756 driver mutations with available timing information. Error}};
\node at (11,1228) {\makebox[651pt][s]{bars denote the range between 0 and 1 pseudocounts; bars denote the average}};
\node at (11,1253) {\makebox[471pt][s]{of the two values. NA, not applicable; NS, not significant.}};
\end{scope}
\node[anchor=east, inner sep=0, font=\fontsize{11}{12}\selectfont, text=black!14] at (662,1266) {https://blog.csdn.net/dr\_yingli};
\end{scope}
\end{tikzpicture}
\end{document}
